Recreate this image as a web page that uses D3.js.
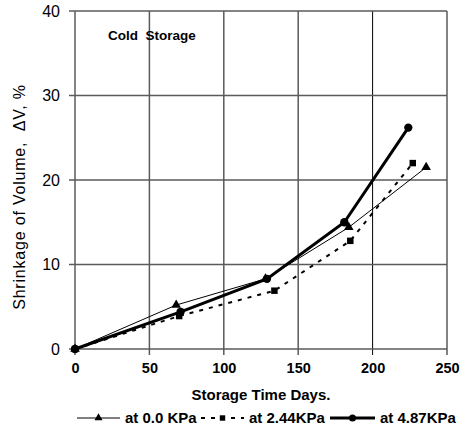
<!DOCTYPE html>
<html>
<head>
<meta charset="utf-8">
<script src="https://cdn.jsdelivr.net/npm/d3@7"></script>
<style>
  body { margin: 0; background: #fff; }
  text { font-family: Arial, "Liberation Sans", sans-serif; white-space: pre; }
</style>
</head>
<body>
<div id="chart"></div>
<script>
// data
const days0 = [0, 68, 128, 184, 236];
const shrink0 = [0, 5.2, 8.3, 14.4, 21.5];
const days244 = [0, 70, 134, 185, 227];
const shrink244 = [0, 3.9, 6.9, 12.8, 22.0];
const days487 = [0, 71, 129, 181, 224];
const shrink487 = [0, 4.4, 8.3, 15.0, 26.2];
const xTicks = [0, 50, 100, 150, 200, 250];
const yTicks = [0, 10, 20, 30, 40];
const seriesNames = ["at 0.0 KPa", "at 2.44KPa", "at 4.87KPa"];

const width = 460, height = 430;
const margin = { top: 11, right: 13, bottom: 81, left: 75 };

const svg = d3.select("#chart").append("svg")
  .attr("width", width).attr("height", height);

const x = d3.scaleLinear().domain([0, 250]).range([margin.left, width - margin.right]);
const y = d3.scaleLinear().domain([0, 40]).range([height - margin.bottom, margin.top]);

// grid
svg.append("g").selectAll("line").data(xTicks).enter().append("line")
  .attr("x1", d => x(d)).attr("x2", d => x(d))
  .attr("y1", y(40)).attr("y2", y(0) + 6)
  .attr("stroke", d => d === 200 ? "#000" : "#5a5a5a")
  .attr("stroke-width", d => d === 200 ? 1 : 1.5);
svg.append("g").selectAll("line").data(yTicks).enter().append("line")
  .attr("x1", x(0) - 6).attr("x2", x(250))
  .attr("y1", d => y(d)).attr("y2", d => y(d))
  .attr("stroke", "#5a5a5a").attr("stroke-width", 1.5);

// axes labels
const yAxis = svg.append("g")
  .attr("transform", `translate(${margin.left},0)`)
  .call(d3.axisLeft(y).tickValues(yTicks).tickSize(0).tickPadding(15));
yAxis.select(".domain").remove();
yAxis.selectAll("text").attr("font-size", 16).attr("fill", "#000")
  .attr("font-family", "Arial, 'Liberation Sans', sans-serif");

const xAxis = svg.append("g")
  .attr("transform", `translate(0,${y(0)})`)
  .call(d3.axisBottom(x).tickValues(xTicks).tickSize(0).tickPadding(14));
xAxis.select(".domain").remove();
xAxis.selectAll("text").attr("font-size", 14.5).attr("font-weight", "bold").attr("fill", "#000")
  .attr("font-family", "Arial, 'Liberation Sans', sans-serif");

// titles
svg.append("text")
  .attr("x", 261).attr("y", 400)
  .attr("text-anchor", "middle").attr("font-size", 15).attr("font-weight", "bold")
  .text("Storage Time Days.");
svg.append("text")
  .attr("transform", "translate(25,197) rotate(-90)")
  .attr("text-anchor", "middle").attr("font-size", 16)
  .attr("letter-spacing", 0.8)
  .text("Shrinkage of Volume,  ΔV, %");
svg.append("text")
  .attr("x", 108).attr("y", 40)
  .attr("font-size", 13.5).attr("font-weight", "bold")
  .text("Cold  Storage");

// series
const series = [
  { xs: days0, ys: shrink0, width: 1, dash: null, marker: d3.symbolTriangle, size: 40 },
  { xs: days244, ys: shrink244, width: 2, dash: "4,6", marker: d3.symbolSquare, size: 42 },
  { xs: days487, ys: shrink487, width: 3, dash: null, marker: d3.symbolCircle, size: 55 }
];

const line = d3.line().x(d => x(d[0])).y(d => y(d[1]));

series.forEach(s => {
  const pts = s.xs.map((v, i) => [v, s.ys[i]]);
  svg.append("path").datum(pts)
    .attr("d", line)
    .attr("fill", "none").attr("stroke", "#000")
    .attr("stroke-width", s.width)
    .attr("stroke-dasharray", s.dash);
  svg.append("g").selectAll("path").data(pts).enter().append("path")
    .attr("d", d3.symbol().type(s.marker).size(s.size))
    .attr("transform", d => `translate(${x(d[0])},${y(d[1])})`)
    .attr("fill", "#000");
});

// legend
const legendX = [77, 201, 330];
const legendW = [43, 43, 45];
const legendY = 423;
series.forEach((s, i) => {
  const g = svg.append("g");
  g.append("line")
    .attr("x1", legendX[i]).attr("x2", legendX[i] + legendW[i])
    .attr("y1", legendY - 5).attr("y2", legendY - 5)
    .attr("stroke", "#000").attr("stroke-width", s.width)
    .attr("stroke-dasharray", s.dash);
  g.append("path")
    .attr("d", d3.symbol().type(s.marker).size(s.size * 0.7))
    .attr("transform", `translate(${legendX[i] + legendW[i] / 2},${legendY - 5})`)
    .attr("fill", "#000");
  g.append("text")
    .attr("x", legendX[i] + legendW[i] + 5).attr("y", legendY)
    .attr("font-size", 15).attr("font-weight", "bold")
    .text(seriesNames[i]);
});
</script>
</body>
</html>
